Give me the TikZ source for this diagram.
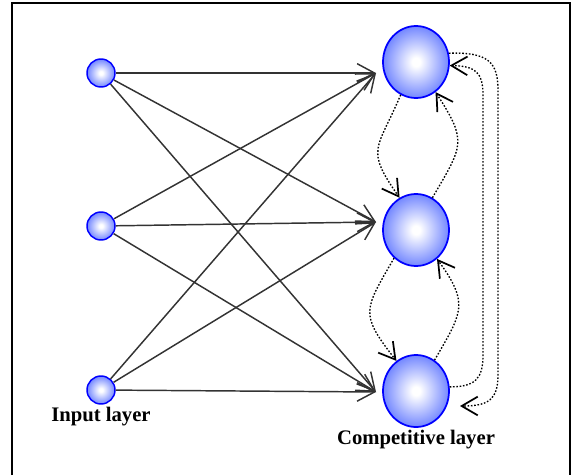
\documentclass[tikz,border=0pt]{standalone}
\usepackage{fontspec}
\setmainfont{Liberation Serif}
\usetikzlibrary{arrows.meta,shapes.geometric}

\definecolor{ballblue}{RGB}{45,75,255}
\pgfdeclareradialshading{ballfill}{\pgfpoint{0bp}{0bp}}{color(0bp)=(white); color(3bp)=(white); color(36bp)=(ballblue); color(50bp)=(ballblue)}

\begin{document}
\begin{tikzpicture}[
x=0.75pt,
y=-0.75pt,
neuron/.style={
  circle,
  draw=blue,
  line width=1.1pt,
  shade,
  shading=ballfill,
  minimum size=21pt,
  inner sep=0pt
  },
unit/.style={
  ellipse,
  draw=blue,
  line width=1.3pt,
  shade,
  shading=ballfill,
  minimum width=49.5pt,
  minimum height=54pt,
  inner sep=0pt
  },
link/.style={
  draw=black!80,
  line width=1.1pt,
  -{Straight Barb[length=13pt,width=14pt]}
  },
back/.style={
  draw=black,
  line width=1pt,
  dash pattern=on 1.2pt off 1.3pt,
  -{Straight Barb[length=12pt,width=14pt,line width=1.3pt]}
  },
layer/.style={
  font=\bfseries\fontsize{15.5}{18}\selectfont
  }
]
\useasboundingbox (0,0) rectangle (571,475);

% frame, the bottom edge lies below the page
\draw[line width=1.1pt] (12,475) -- (12,3) -- (570,3) -- (570,475);

% input layer
\node[neuron] (in1) at (101,73) {};
\node[neuron] (in2) at (101,226) {};
\node[neuron] (in3) at (101,390) {};

% competitive layer
\node[unit] (out1) at (416,62) {};
\node[unit] (out2) at (416,230) {};
\node[unit] (out3) at (416,391) {};

\coordinate (tip1) at (376,73);
\coordinate (tip2) at (376,222);
\coordinate (tip3) at (376,392);
\coordinate (back3) at (460,406);

\foreach \i in {1,2,3}
{\foreach \j in {1,2,3}
  \draw[link] (in\i) -- (tip\j);
}

% lateral links between neighbours
\draw[back] (out1.245) to[out=247,in=125,looseness=1.5] (out2.117);
\draw[back] (out2.63) to[out=60,in=-57,looseness=1.45] (out1.303);
\draw[back] (out2.232) to[out=240,in=128,looseness=1.5] (out3.123);
\draw[back] (out3.59) to[out=60,in=-54,looseness=1.4] (out2.306);

% lateral links between first and last unit
\draw[back] (out1.15) .. controls (488,52) and (498,62) .. (498,90)
  -- (498,375) .. controls (498,400) and (488,406) .. (back3);
\draw[back] (out3.7) .. controls (476,387) and (483,378) .. (483,355)
  -- (483,95) .. controls (483,72) and (475,66) .. (out1.354);

\node[layer] (inlabel) at (101,417) {Input layer};
\node[layer] (outlabel) at (416,440) {Competitive layer};

\end{tikzpicture}
\end{document}
